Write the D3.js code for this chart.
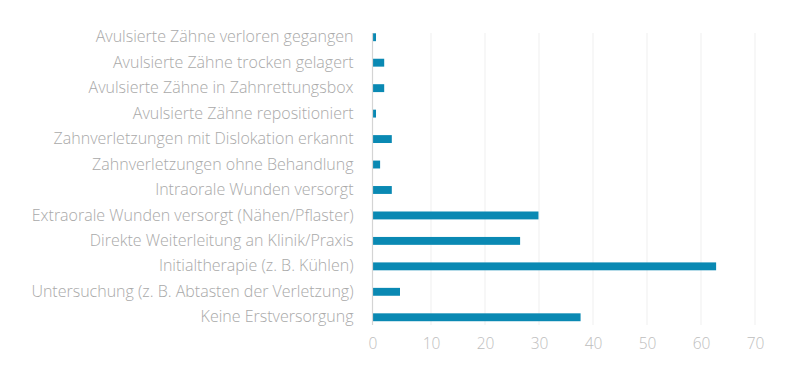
<!DOCTYPE html>
<html>
<head>
<meta charset="utf-8">
<script src="https://cdn.jsdelivr.net/npm/d3@7"></script>
<style>
    body { margin: 0; background: #fff; }
    svg text { font-family: "Open Sans", sans-serif; font-weight: 300; }
</style>
</head>
<body>
<div id="chart"></div>
<script>
// categories top to bottom
const categories = [
    "Avulsierte Zähne verloren gegangen",
    "Avulsierte Zähne trocken gelagert",
    "Avulsierte Zähne in Zahnrettungsbox",
    "Avulsierte Zähne repositioniert",
    "Zahnverletzungen mit Dislokation erkannt",
    "Zahnverletzungen ohne Behandlung",
    "Intraorale Wunden versorgt",
    "Extraorale Wunden versorgt (Nähen/Pflaster)",
    "Direkte Weiterleitung an Klinik/Praxis",
    "Initialtherapie (z. B. Kühlen)",
    "Untersuchung (z. B. Abtasten der Verletzung)",
    "Keine Erstversorgung"
];
const values = [0.6, 2.0, 2.0, 0.6, 3.3, 1.3, 3.3, 29.9, 26.5, 62.8, 4.7, 37.7];
const ticks = [0, 10, 20, 30, 40, 50, 60, 70];

const width = 790, height = 390;
const left = 372.5;

const svg = d3.select("#chart").append("svg")
    .attr("width", width)
    .attr("height", height);

// the picture's first step (0-10) is a little wider than the others
const x = d3.scaleLinear()
    .domain([0, 10, 70])
    .range([left, 431, 755]);

const y = d3.scaleBand()
    .domain(categories)
    .range([24.5, 330])
    .paddingInner(0.69)
    .paddingOuter(0.345);

// grid
svg.append("g")
    .selectAll("line")
    .data(ticks.slice(1))
    .enter().append("line")
    .attr("x1", d => x(d))
    .attr("x2", d => x(d))
    .attr("y1", 33)
    .attr("y2", 325)
    .attr("stroke", "#efefef")
    .attr("stroke-width", 1);

// bars
svg.append("g")
    .selectAll("rect")
    .data(values)
    .enter().append("rect")
    .attr("x", x(0))
    .attr("y", (d, i) => y(categories[i]))
    .attr("width", d => x(d) - x(0))
    .attr("height", y.bandwidth())
    .attr("fill", "#0a89b3");

// axis line
svg.append("line")
    .attr("x1", left)
    .attr("x2", left)
    .attr("y1", 33)
    .attr("y2", 325)
    .attr("stroke", "#d4d4d4")
    .attr("stroke-width", 1.2);

// category labels
const axisY = d3.axisLeft(y).tickSize(0).tickPadding(19);
const gy = svg.append("g")
    .attr("transform", "translate(" + left + ",0)")
    .call(axisY);
gy.select(".domain").remove();
gy.selectAll("text")
    .attr("fill", "#a9a9a9")
    .style("font-size", "16px");

// value labels
const axisX = d3.axisBottom(x).tickValues(ticks).tickSize(0).tickPadding(0);
const gx = svg.append("g")
    .attr("transform", "translate(0,338)")
    .call(axisX);
gx.select(".domain").remove();
gx.selectAll("text")
    .attr("fill", "#bdbdbd")
    .style("font-size", "15.5px");
</script>
</body>
</html>
